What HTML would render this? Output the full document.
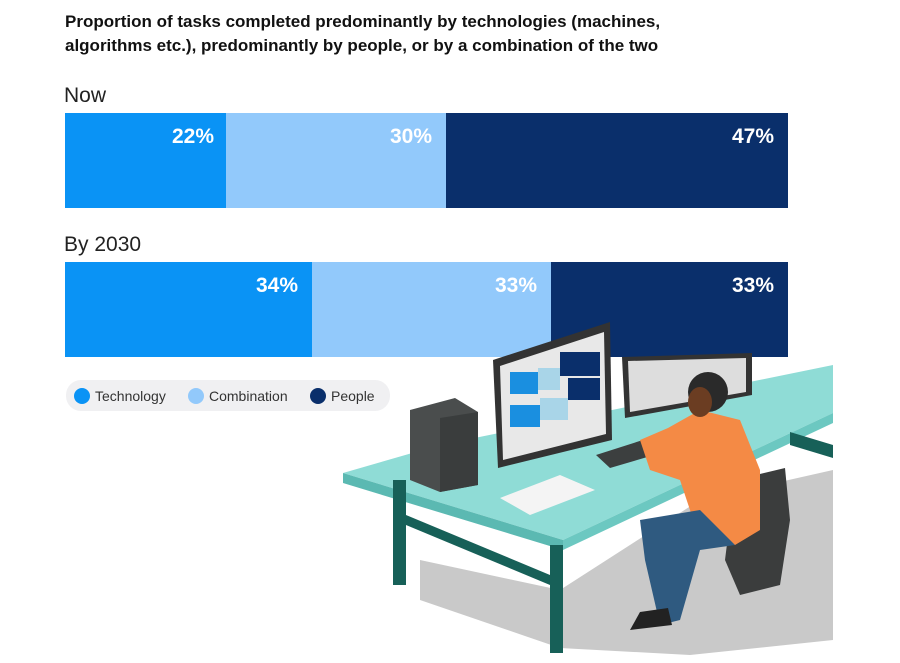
<!DOCTYPE html>
<html><head><meta charset="utf-8"><style>
body{margin:0;background:#fff;width:900px;height:658px;overflow:hidden}
</style></head><body>
<svg width="900" height="658" xmlns="http://www.w3.org/2000/svg" font-family="Liberation Sans, sans-serif">
<text x="65" y="27" font-size="17" font-weight="bold" fill="#111">Proportion of tasks completed predominantly by technologies (machines,</text>
<text x="65" y="51" font-size="17" font-weight="bold" fill="#111">algorithms etc.), predominantly by people, or by a combination of the two</text>
<text x="64" y="102" font-size="21" fill="#222">Now</text>
<rect x="65" y="113" width="161" height="95" fill="#0a93f5"/>
<rect x="226" y="113" width="220" height="95" fill="#92c9fb"/>
<rect x="446" y="113" width="342" height="95" fill="#0a2f6b"/>
<g font-size="21" font-weight="bold" fill="#fff" text-anchor="end">
<text x="214" y="143">22%</text><text x="432" y="143">30%</text><text x="774" y="143">47%</text>
</g>
<text x="64" y="251" font-size="21" fill="#222">By 2030</text>
<rect x="65" y="262" width="247" height="95" fill="#0a93f5"/>
<rect x="312" y="262" width="239" height="95" fill="#92c9fb"/>
<rect x="551" y="262" width="237" height="95" fill="#0a2f6b"/>
<g font-size="21" font-weight="bold" fill="#fff" text-anchor="end">
<text x="298" y="292">34%</text><text x="537" y="292">33%</text><text x="774" y="292">33%</text>
</g>
<rect x="66" y="380" width="324" height="31" rx="15" fill="#f0f0f2"/>
<circle cx="82" cy="396" r="8" fill="#0a93f5"/><text x="95" y="401" font-size="14" fill="#333">Technology</text>
<circle cx="196" cy="396" r="8" fill="#92c9fb"/><text x="209" y="401" font-size="14" fill="#333">Combination</text>
<circle cx="318" cy="396" r="8" fill="#0a2f6b"/><text x="331" y="401" font-size="14" fill="#333">People</text>
<!-- illustration -->
<polygon points="420,560 560,590 700,500 833,470 833,640 690,655 560,648 420,600" fill="#c9c9c9"/>
<polygon points="343,473 440,445 833,365 833,413 563,540" fill="#8fdcd6"/>
<polygon points="343,473 563,540 563,550 343,483" fill="#5bb9b2"/>
<polygon points="563,540 833,413 833,423 563,550" fill="#6cc8c1"/>
<rect x="393" y="480" width="13" height="105" fill="#176058"/>
<rect x="550" y="545" width="13" height="108" fill="#176058"/>
<polygon points="406,515 550,575 550,585 406,525" fill="#176058"/>
<polygon points="790,432 833,445 833,458 790,445" fill="#176058"/>
<polygon points="410,410 455,398 478,412 478,485 440,492 410,480" fill="#4a4d4d"/>
<polygon points="440,418 478,412 478,485 440,492" fill="#3a3d3d"/>
<polygon points="493,360 610,322 612,440 498,468" fill="#333"/>
<polygon points="500,366 604,332 606,434 503,460" fill="#e8e8e8"/>
<rect x="510" y="372" width="28" height="22" fill="#1a8fe0"/><rect x="538" y="368" width="22" height="22" fill="#a9d5e8"/><rect x="560" y="352" width="40" height="24" fill="#0a2f6b"/>
<rect x="510" y="405" width="30" height="22" fill="#1a8fe0"/><rect x="540" y="398" width="28" height="22" fill="#a9d5e8"/><rect x="568" y="378" width="32" height="22" fill="#0a2f6b"/>
<polygon points="622,357 752,353 752,395 625,418" fill="#333"/>
<polygon points="628,361 746,358 746,392 630,412" fill="#ddd"/>
<polygon points="596,455 690,425 705,440 610,468" fill="#3c3f3f"/>
<polygon points="500,498 560,475 595,490 530,515" fill="#f4f4f4"/>
<polygon points="735,480 785,468 790,520 780,585 740,595 725,560" fill="#3b3d3d"/>
<polygon points="640,440 668,428 700,410 740,420 760,470 760,530 735,545 700,540 680,480 650,470" fill="#f48a45"/>
<circle cx="708" cy="392" r="20" fill="#2a2a2a"/>
<ellipse cx="700" cy="402" rx="12" ry="15" fill="#6b3d22"/>
<polygon points="640,520 700,510 735,545 700,550 680,620 660,625 645,560" fill="#2f5a80"/>
<polygon points="640,612 668,608 672,625 630,630" fill="#222"/>
</svg>
</body></html>
